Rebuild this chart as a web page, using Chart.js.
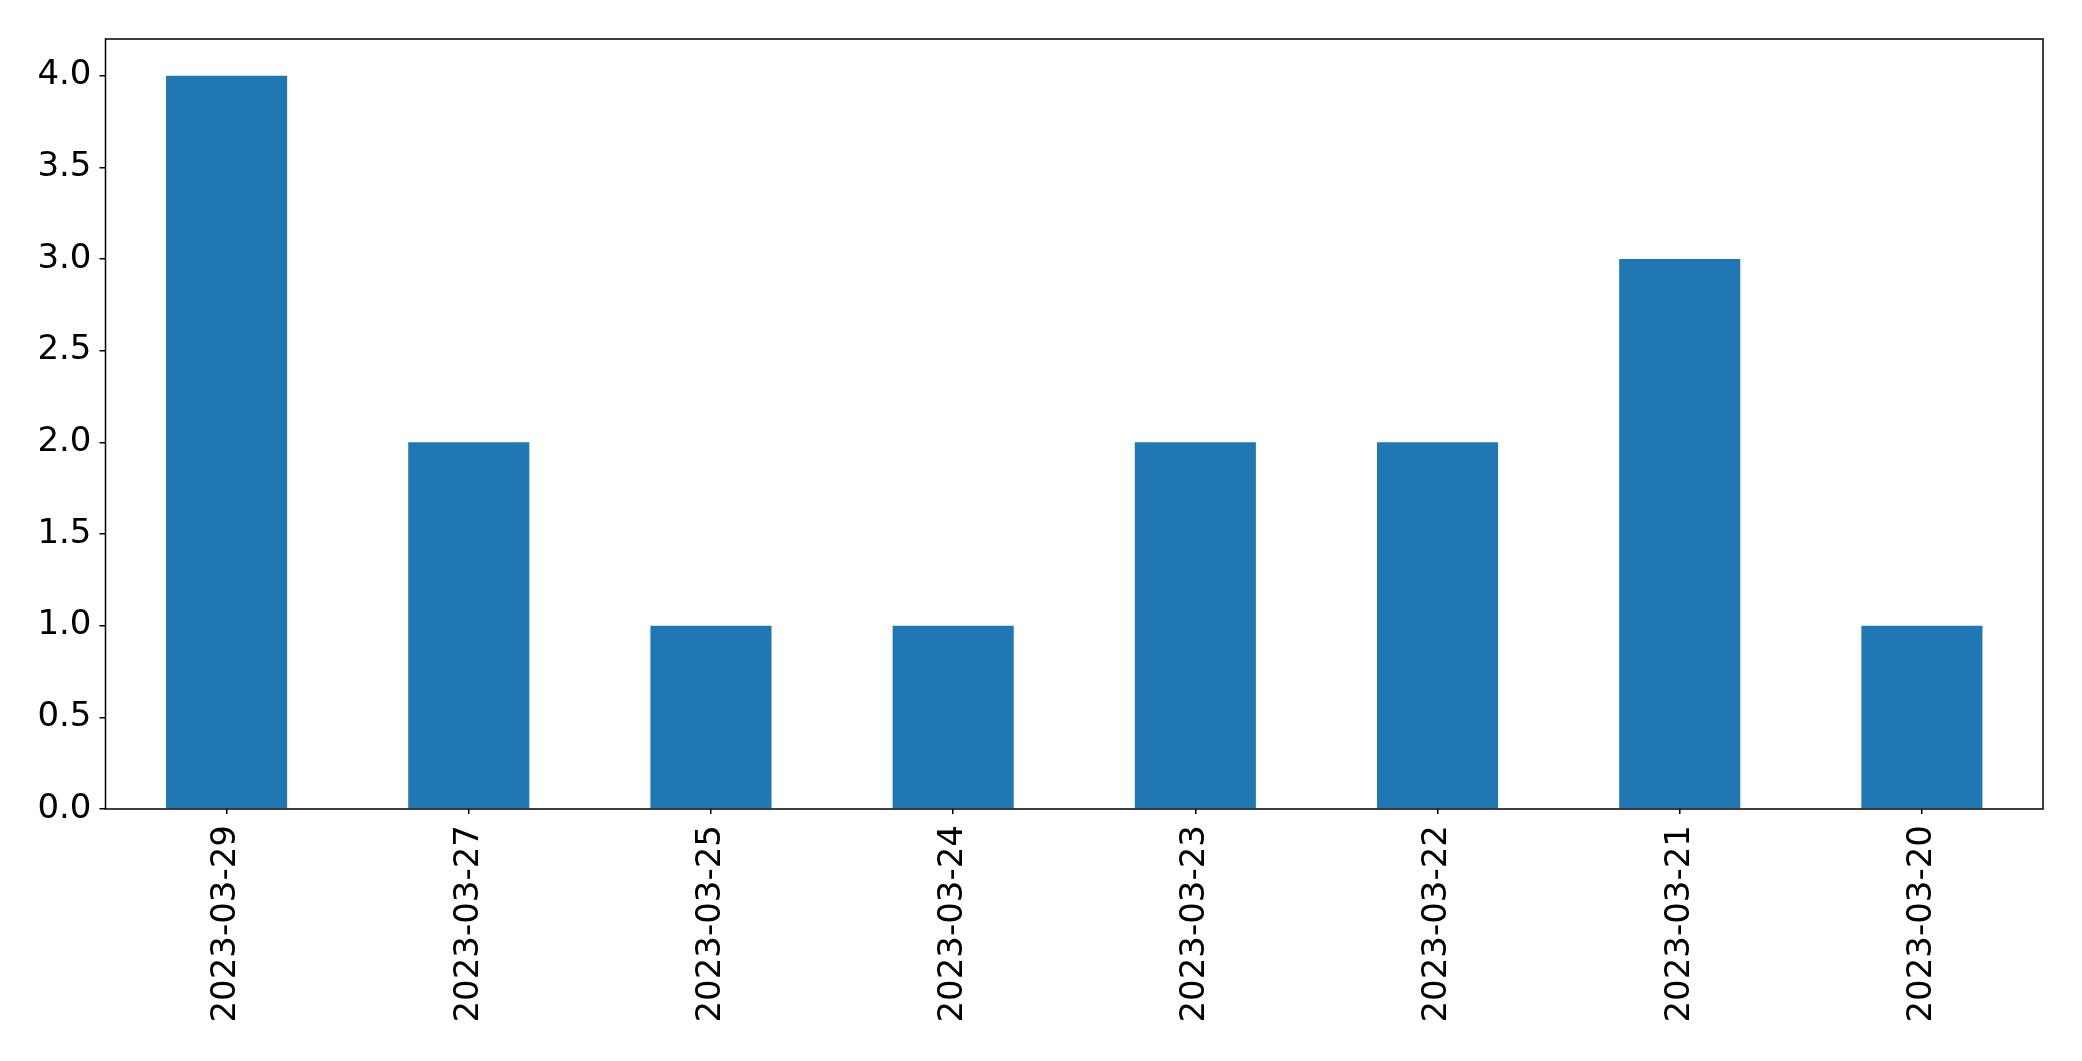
<!DOCTYPE html>
<html>
<head>
<meta charset="utf-8">
<script src="https://cdn.jsdelivr.net/npm/chart.js@4"></script>
<style>
  html, body { margin: 0; padding: 0; background: #fff; }
  #wrap { width: 2082px; height: 1061px; }
</style>
</head>
<body>
<div id="wrap"><canvas id="chart" width="2082" height="1061"></canvas></div>
<script>
const dates = ["2023-03-29", "2023-03-27", "2023-03-25", "2023-03-24", "2023-03-23", "2023-03-22", "2023-03-21", "2023-03-20"];
const counts = [4, 2, 1, 1, 2, 2, 3, 1];

const ctx = document.getElementById("chart");

// box round the plot area, like matplotlib spines
const frame = {
  id: "frame",
  afterDraw(chart) {
    const a = chart.chartArea;
    const c = chart.ctx;
    c.save();
    c.strokeStyle = "#000";
    c.lineWidth = 1.5;
    c.strokeRect(a.left, a.top, a.right - a.left, a.bottom - a.top);
    c.restore();
  },
};

new Chart(ctx, {
  type: "bar",
  data: {
    labels: dates,
    datasets: [{
      data: counts,
      backgroundColor: "#1f77b4",
      barPercentage: 0.5,
      categoryPercentage: 1.0,
    }],
  },
  options: {
    responsive: false,
    animation: false,
    layout: { padding: { left: 0, top: 39, right: 39, bottom: 0 } },
    plugins: { legend: { display: false }, tooltip: { enabled: false } },
    scales: {
      x: {
        grid: { offset: false, drawOnChartArea: false, tickLength: 5, color: "#000", lineWidth: 1.5 },
        border: { display: false },
        ticks: {
          color: "#000",
          font: { family: "DejaVu Sans", size: 34 },
          minRotation: 90,
          maxRotation: 90,
          padding: 11,
        },
        afterFit(scale) { scale.height = 252; },
      },
      y: {
        min: 0,
        max: 4.2,
        grid: { drawOnChartArea: false, tickLength: 6, color: "#000", lineWidth: 1.5 },
        border: { display: false },
        ticks: {
          stepSize: 0.5,
          includeBounds: false,
          color: "#000",
          font: { family: "DejaVu Sans", size: 34 },
          padding: 8,
          callback: (v) => v.toFixed(1),
        },
        afterFit(scale) { scale.width = 105.5; },
      },
    },
  },
  plugins: [frame],
});
</script>
</body>
</html>
